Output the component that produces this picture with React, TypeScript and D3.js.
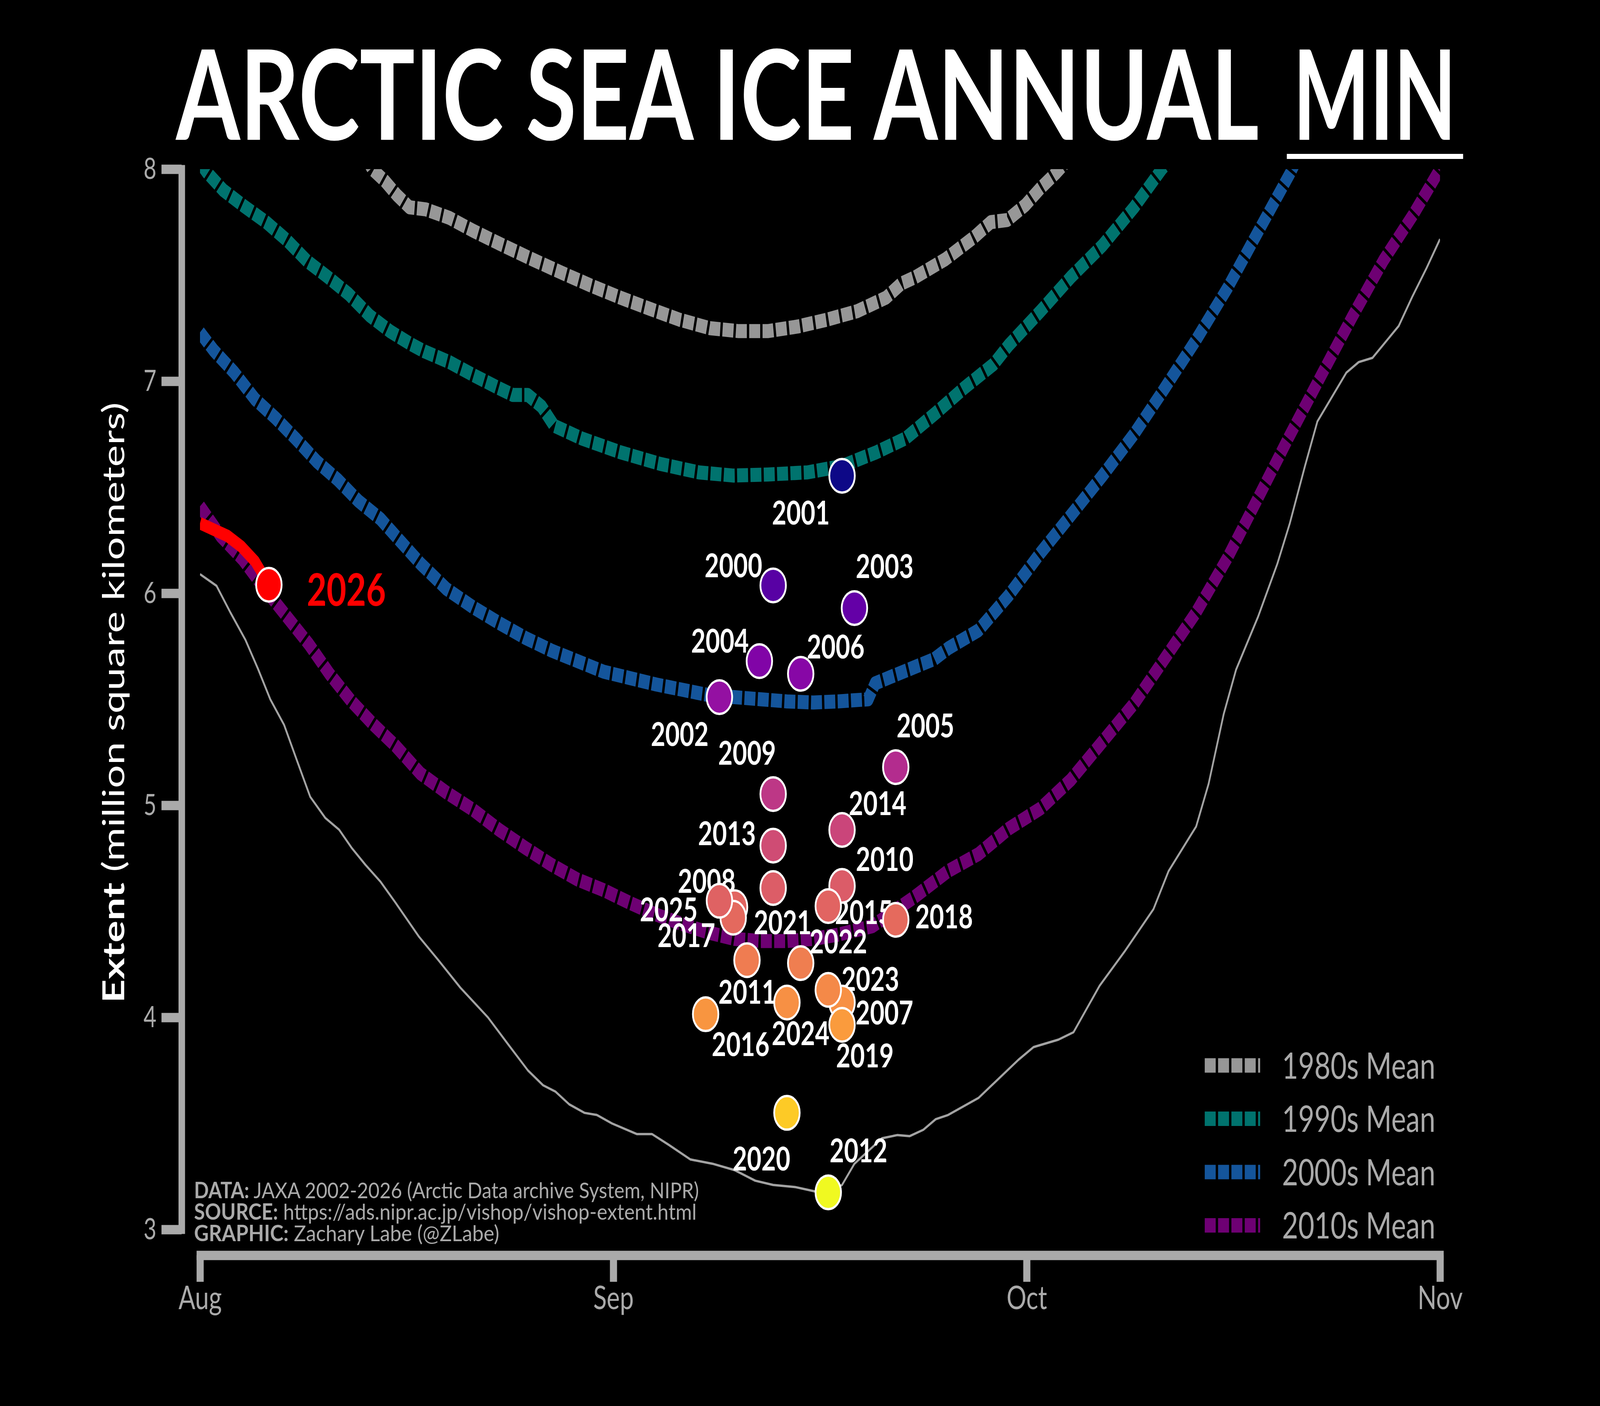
import { useEffect, useRef } from 'react';
import * as d3 from 'd3';

// x = day index counted from 1 August, y = extent in million square kilometers
const monthTicks = [0, 30, 60, 90];
const monthLabels = ['Aug', 'Sep', 'Oct', 'Nov'];
const extentTicks = [3, 4, 5, 6, 7, 8];

const decadeNames = ['1980s Mean', '1990s Mean', '2000s Mean', '2010s Mean'];

const days1980s = [12, 12.5, 13.4, 14.3, 15.2, 16.4, 18.1, 19.8, 22, 24.1, 26.3, 28.4, 30.5, 32.7, 34.8, 37, 39.1, 41.2, 43.4, 45.5, 47.7, 49.8, 50.9, 51.9, 54.1, 56.2, 57.4, 58.6, 59.9, 61, 62.1, 62.8];
const extent1980s = [8.06, 8.0, 7.945, 7.877, 7.82, 7.81, 7.77, 7.71, 7.64, 7.575, 7.51, 7.45, 7.394, 7.34, 7.29, 7.25, 7.236, 7.236, 7.258, 7.29, 7.33, 7.394, 7.46, 7.49, 7.575, 7.68, 7.75, 7.76, 7.83, 7.91, 7.98, 8.03];

const days1990s = [0, 0.5, 1.7, 3.2, 4.8, 6.3, 7.8, 9.3, 10.8, 12.3, 13.8, 15.3, 16.3, 18.1, 19.8, 21.6, 22.7, 23.8, 24.8, 25.7, 27.7, 30.5, 33.4, 36.2, 38.7, 41.2, 44.1, 46.6, 49.1, 51.2, 53.4, 55.5, 57.6, 58.7, 61, 63.2, 65.5, 67.8, 69.8, 70.2];
const extent1990s = [8.03, 7.985, 7.9, 7.825, 7.75, 7.665, 7.565, 7.49, 7.41, 7.31, 7.235, 7.175, 7.14, 7.09, 7.03, 6.97, 6.935, 6.935, 6.88, 6.79, 6.73, 6.665, 6.61, 6.57, 6.555, 6.56, 6.57, 6.6, 6.665, 6.73, 6.85, 6.97, 7.08, 7.17, 7.33, 7.49, 7.64, 7.82, 8.0, 8.03];

const days2000s = [0, 1, 2.5, 4, 5.5, 7, 8.5, 10, 11.5, 13.1, 14.2, 16, 17.9, 19.8, 21.7, 23.6, 25.5, 27.4, 29.3, 31.2, 33.1, 35, 36.9, 38.8, 40.7, 42.6, 44.5, 46.3, 48.5, 49, 50.3, 51.8, 53.3, 54.3, 56.5, 58.7, 61, 63.2, 65.5, 67.8, 70, 72.3, 74.6, 76.8, 79.1, 79.5];
const extent2000s = [7.23, 7.145, 7.04, 6.915, 6.825, 6.725, 6.62, 6.535, 6.435, 6.35, 6.27, 6.14, 6.02, 5.935, 5.86, 5.79, 5.73, 5.68, 5.63, 5.6, 5.57, 5.545, 5.52, 5.51, 5.5, 5.49, 5.485, 5.49, 5.5, 5.575, 5.61, 5.65, 5.69, 5.74, 5.825, 5.99, 6.19, 6.367, 6.554, 6.751, 6.965, 7.195, 7.442, 7.705, 7.978, 8.03];

const days2010s = [0, 1.5, 3.1, 4.7, 6.3, 7.9, 9.4, 11, 12.6, 14.2, 16, 17.9, 19.8, 21.7, 23.6, 25.5, 27.4, 29.3, 31.2, 33.1, 35, 36.9, 38.8, 40.7, 42.6, 44.5, 46.3, 48.8, 51.8, 54.3, 56.5, 58.7, 61, 63.2, 65.5, 67.8, 70, 72.3, 74.6, 76.8, 79.1, 81.4, 83.6, 85.9, 88.1, 90];
const extent2010s = [6.41, 6.27, 6.16, 6.02, 5.89, 5.76, 5.62, 5.49, 5.38, 5.28, 5.15, 5.06, 4.98, 4.885, 4.8, 4.72, 4.65, 4.6, 4.54, 4.485, 4.44, 4.4, 4.37, 4.36, 4.36, 4.37, 4.39, 4.43, 4.565, 4.69, 4.77, 4.89, 4.985, 5.12, 5.3, 5.48, 5.69, 5.91, 6.17, 6.45, 6.745, 7.03, 7.3, 7.57, 7.79, 8.0];

// record low year (thin grey line)
const days2012 = [0, 1.2, 2.2, 3.3, 4.2, 5.1, 6.1, 7.1, 8, 9.1, 10.1, 11, 12, 13.1, 14.2, 15.9, 17.3, 18.9, 20.9, 22.4, 23.8, 24.9, 25.8, 26.8, 27.9, 28.8, 29.9, 31.7, 32.8, 34, 35.6, 37.2, 38.8, 40.3, 41.6, 43.2, 44.6, 45.6, 46.6, 47.5, 48.5, 49.5, 50.6, 51.5, 52.5, 53.4, 54.3, 56.5, 59.4, 60.5, 62.3, 63.4, 65.3, 67.1, 69.2, 70.3, 72.3, 73.2, 74.3, 75.2, 76.8, 78.2, 79.1, 80.2, 81.1, 83.2, 84.1, 85.1, 87, 88, 89, 90];
const extent2012 = [6.09, 6.035, 5.91, 5.78, 5.645, 5.5, 5.38, 5.2, 5.04, 4.94, 4.885, 4.8, 4.72, 4.64, 4.54, 4.38, 4.27, 4.14, 4.0, 3.87, 3.75, 3.68, 3.65, 3.59, 3.55, 3.54, 3.5, 3.45, 3.45, 3.4, 3.33, 3.31, 3.28, 3.23, 3.21, 3.2, 3.18, 3.175, 3.21, 3.31, 3.37, 3.43, 3.445, 3.44, 3.47, 3.52, 3.54, 3.62, 3.8, 3.86, 3.895, 3.93, 4.15, 4.31, 4.51, 4.69, 4.9, 5.1, 5.43, 5.64, 5.89, 6.14, 6.33, 6.6, 6.81, 7.04, 7.09, 7.11, 7.26, 7.4, 7.53, 7.67];

const days2026 = [0, 1, 2, 3, 4, 5];
const extent2026 = [6.33, 6.3, 6.27, 6.22, 6.15, 6.04];

// annual minima: day of the minimum and its extent
const minYears = [2000, 2001, 2002, 2003, 2004, 2005, 2006, 2007, 2008, 2009, 2010, 2011, 2012, 2013, 2014, 2015, 2016, 2017, 2018, 2019, 2020, 2021, 2022, 2023, 2024, 2025];
const minDays = [41.6, 46.6, 37.7, 47.5, 40.6, 50.5, 43.6, 46.6, 38.8, 41.6, 46.6, 39.7, 45.6, 41.6, 46.6, 45.6, 36.7, 38.7, 50.5, 46.6, 42.6, 41.6, 43.6, 45.6, 42.6, 37.7];
const minExtent = [6.037, 6.554, 5.51, 5.93, 5.68, 5.18, 5.62, 4.07, 4.52, 5.053, 4.62, 4.27, 3.175, 4.81, 4.884, 4.525, 4.015, 4.47, 4.46, 3.965, 3.55, 4.61, 4.256, 4.13, 4.07, 4.55];

const sourceLines = [
  ['DATA:', ' JAXA 2002-2026 (Arctic Data archive System, NIPR)'],
  ['SOURCE:', ' https://ads.nipr.ac.jp/vishop/vishop-extent.html'],
  ['GRAPHIC:', ' Zachary Labe (@ZLabe)'],
];
const sourceWidths = [1704, 1696, 1030];

// layout: where each year label sits relative to its dot (px: centre x, baseline y)
const labelNudge: Record<number, [number, number]> = {
  2000: [-134, -21], 2001: [-139, 125], 2002: [-134, 125], 2003: [102, -77],
  2004: [-133, -22], 2005: [100, -76], 2006: [118, -39], 2007: [143, 56],
  2008: [-94, -37], 2009: [-88, -75], 2010: [144, -38], 2011: [1, 112],
  2012: [102, -77], 2013: [-156, -1], 2014: [120, -38], 2015: [120, 46],
  2016: [118, 107], 2017: [-158, 75], 2018: [163, 22], 2019: [77, 109],
  2020: [-86, 148], 2021: [32, 118], 2022: [127, -25], 2023: [142, 3],
  2024: [46, 109], 2025: [-171, 53],
};

const decadeColors = ['#979797', '#00736e', '#14559b', '#6e0073'];
const W = 5400;
const H = 3600;
const FONT = 'Lato, "Noto Sans", sans-serif';
const AXIS = '#aaaaaa';

const zip = (a: number[], b: number[]) => a.map((d, i) => [d, b[i]] as [number, number]);

export default function App() {
  const ref = useRef<SVGSVGElement | null>(null);

  useEffect(() => {
    document.body.style.margin = '0';
    document.body.style.background = '#000';

    const svg = d3.select(ref.current);
    svg.selectAll('*').remove();
    svg.append('rect').attr('width', W).attr('height', H).attr('fill', '#000');

    const x = d3.scaleLinear().domain([0, 90]).range([675, 4860]);
    const y = d3.scaleLinear().domain([3, 8]).range([3148, 433]);
    const line = d3.line<[number, number]>().x((d) => x(d[0])).y((d) => y(d[1]));

    // title, with MIN underlined
    svg.append('text').text('ARCTIC SEA ICE ANNUAL')
      .attr('x', 594).attr('y', 358).attr('font-family', FONT).attr('font-weight', 700)
      .attr('font-size', 320).attr('fill', '#fff')
      .attr('textLength', 3655).attr('lengthAdjust', 'spacingAndGlyphs');
    svg.append('text').text('MIN')
      .attr('x', 4364).attr('y', 358).attr('font-family', FONT).attr('font-weight', 700)
      .attr('font-size', 320).attr('fill', '#fff')
      .attr('textLength', 551).attr('lengthAdjust', 'spacingAndGlyphs');
    svg.append('rect').attr('x', 4343).attr('y', 394).attr('width', 595).attr('height', 13).attr('fill', '#fff');

    // axes, matplotlib-style offset spines
    const yAxis = svg.append('g').attr('transform', 'translate(613,0)')
      .call(d3.axisLeft(y).tickValues(extentTicks).tickSize(68).tickSizeOuter(0).tickPadding(17).tickFormat(d3.format('d')));
    yAxis.select('.domain').attr('stroke', AXIS).attr('stroke-width', 22).attr('stroke-linecap', 'square');
    yAxis.selectAll('.tick line').attr('stroke', AXIS).attr('stroke-width', 24);
    yAxis.selectAll('.tick text').attr('fill', AXIS).attr('font-size', 75).attr('font-family', FONT);

    const xAxis = svg.append('g').attr('transform', 'translate(0,3214)')
      .call(d3.axisBottom(x).tickValues(monthTicks).tickSize(68).tickSizeOuter(0).tickPadding(10)
        .tickFormat((_, i) => monthLabels[i]));
    xAxis.select('.domain').attr('stroke', AXIS).attr('stroke-width', 24).attr('stroke-linecap', 'square');
    xAxis.selectAll('.tick line').attr('stroke', AXIS).attr('stroke-width', 24);
    xAxis.selectAll('.tick text').attr('fill', AXIS).attr('font-size', 84).attr('font-family', FONT);

    const yLabel = svg.append('text')
      .attr('transform', 'translate(419,1799) rotate(-90)')
      .attr('text-anchor', 'middle').attr('font-family', FONT).attr('font-size', 102).attr('fill', '#fff')
      .attr('textLength', 1538).attr('lengthAdjust', 'spacingAndGlyphs');
    yLabel.append('tspan').attr('font-weight', 700).text('Extent');
    yLabel.append('tspan').text(' (million square kilometers)');

    // source block
    sourceLines.forEach(([head, rest], i) => {
      const t = svg.append('text').attr('x', 655).attr('y', 3068 + i * 55)
        .attr('font-family', FONT).attr('font-size', 57).attr('fill', AXIS)
        .attr('textLength', sourceWidths[i]).attr('lengthAdjust', 'spacingAndGlyphs');
      t.append('tspan').attr('font-weight', 700).text(head);
      t.append('tspan').text(rest);
    });

    // lines, clipped to the plotting box
    svg.append('defs').append('clipPath').attr('id', 'plot-clip').append('rect')
      .attr('x', x(0)).attr('y', y(8)).attr('width', x(90) - x(0)).attr('height', y(3) - y(8));
    const plot = svg.append('g').attr('clip-path', 'url(#plot-clip)');

    const decades = [zip(days1980s, extent1980s), zip(days1990s, extent1990s), zip(days2000s, extent2000s), zip(days2010s, extent2010s)];
    decades.forEach((pts, i) => {
      plot.append('path').datum(pts).attr('d', line).attr('fill', 'none')
        .attr('stroke', decadeColors[i]).attr('stroke-width', 36)
        .attr('stroke-dasharray', '37 8').attr('stroke-linejoin', 'round');
    });

    plot.append('path').datum(zip(days2012, extent2012)).attr('d', line).attr('fill', 'none')
      .attr('stroke', '#a3a3a3').attr('stroke-width', 6).attr('stroke-linejoin', 'round');

    plot.append('path').datum(zip(days2026, extent2026)).attr('d', line).attr('fill', 'none')
      .attr('stroke', '#ff0000').attr('stroke-width', 32).attr('stroke-linejoin', 'round');

    // legend
    decadeNames.forEach((name, i) => {
      const ly = 2728 + i * 136.5;
      svg.append('line').attr('x1', 4066).attr('x2', 4253).attr('y1', ly).attr('y2', ly)
        .attr('stroke', decadeColors[i]).attr('stroke-width', 37).attr('stroke-dasharray', '37 8');
      svg.append('text').attr('x', 4327).attr('y', ly + 34).text(name)
        .attr('font-family', FONT).attr('font-size', 94).attr('fill', AXIS);
    });

    // minima: labels first, dots on top
    const minima = minYears.map((year, i) => ({ year, day: minDays[i], extent: minExtent[i] }));
    const [lo, hi] = d3.extent(minExtent) as [number, number];
    const color = d3.scaleSequential(d3.interpolatePlasma).domain([hi, lo]);

    svg.append('g').selectAll('text').data(minima).join('text')
      .attr('x', (d) => x(d.day) + labelNudge[d.year][0])
      .attr('y', (d) => y(d.extent) + labelNudge[d.year][1])
      .attr('text-anchor', 'middle').attr('font-family', FONT).attr('font-weight', 700)
      .attr('font-size', 84).attr('fill', '#fff').text((d) => d.year);

    svg.append('g').selectAll('circle').data(minima).join('circle')
      .attr('cx', (d) => x(d.day)).attr('cy', (d) => y(d.extent)).attr('r', 43)
      .attr('fill', (d) => color(d.extent)).attr('stroke', '#fff').attr('stroke-width', 6);

    const lastDay = days2026[days2026.length - 1];
    const lastExtent = extent2026[extent2026.length - 1];
    svg.append('circle').attr('cx', x(lastDay)).attr('cy', y(lastExtent)).attr('r', 43)
      .attr('fill', '#ff0000').attr('stroke', '#fff').attr('stroke-width', 6);
    svg.append('text').attr('x', x(lastDay) + 128).attr('y', y(lastExtent) + 54).text('2026')
      .attr('font-family', FONT).attr('font-weight', 700).attr('font-size', 115).attr('fill', '#ff0000');
  }, []);

  return (
    <svg ref={ref} viewBox={`0 0 ${W} ${H}`} preserveAspectRatio="none"
      style={{ position: 'fixed', left: 0, top: 0, width: '100vw', height: '100vh', display: 'block', background: '#000' }} />
  );
}
